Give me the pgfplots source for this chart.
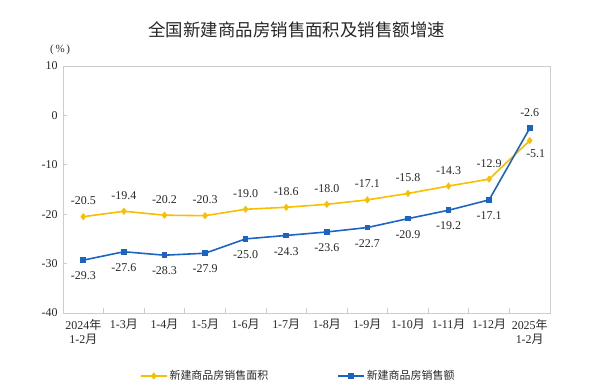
\documentclass[border=0pt]{standalone}
\usepackage{fontspec}
\setmainfont{Liberation Serif}
\newfontfamily\cjk{Noto Sans CJK SC}
\usepackage{pgfplots}
\pgfplotsset{compat=1.18}
\definecolor{cy}{RGB}{248,190,0}
\definecolor{cb}{RGB}{28,100,196}
\definecolor{axc}{RGB}{205,205,205}
\definecolor{tx}{RGB}{40,40,40}
\begin{document}
\begin{tikzpicture}
\useasboundingbox (0,0) rectangle (595bp,391bp);
\begin{axis}[
  at={(63bp,78bp)}, anchor=south west,
  scale only axis, width=487bp, height=247bp,
  xmin=-0.5, xmax=11.5, ymin=-40, ymax=10,
  ytick={-40,-30,...,10},
  xtick={0,...,11},
  xticklabels={{2024{\cjk 年}\\1-2{\cjk 月}},{1-3{\cjk 月}},{1-4{\cjk 月}},{1-5{\cjk 月}},{1-6{\cjk 月}},{1-7{\cjk 月}},{1-8{\cjk 月}},{1-9{\cjk 月}},{1-10{\cjk 月}},{1-11{\cjk 月}},{1-12{\cjk 月}},{2025{\cjk 年}\\1-2{\cjk 月}}},
  minor xtick={0.5,1.5,...,10.5},
  xtick pos=bottom, ytick pos=left,
  tick align=inside,
  major tick length=4bp, minor tick length=5bp,
  major x tick style={draw=none},
  tick style={axc, line width=0.7pt},
  axis line style={axc, line width=0.8pt},
  /pgf/number format/assume math mode=true,
  ticklabel style={font=\fontsize{12}{13.5}\selectfont, text=tx},
  xticklabel style={align=center, yshift=-3bp},
  yticklabel style={xshift=-2bp},
  point meta=explicit symbolic,
  visualization depends on={value \thisrow{anc} \as \anc},
  visualization depends on={value \thisrow{dx} \as \dx},
  visualization depends on={value \thisrow{dy} \as \dy},
  nodes near coords,
  every node near coord/.append style={anchor=\anc, xshift=\dx bp, yshift=\dy bp, font=\fontsize{12}{14}\selectfont, text=tx, inner sep=1bp},
  legend columns=2,
  legend style={at={(0.483,-0.255)}, anchor=center, draw=none, fill=none, font=\fontsize{11}{13}\selectfont\cjk, text=tx, /tikz/every even column/.append style={column sep=67bp}},
  legend image code/.code={\draw[#1, mark repeat=2, mark phase=2] plot coordinates {(0bp,0bp) (13bp,0bp) (26bp,0bp)};},
  clip=false,
]
\addplot[cy, line width=1.6pt, mark=diamond*, mark size=2.4bp, mark options={solid}] table[x=x, y=y, meta=lab] {
x y lab anc dx dy
0 -20.5 -20.5 south 0 10
1 -19.4 -19.4 south 0 10
2 -20.2 -20.2 south 0 10
3 -20.3 -20.3 south 0 10
4 -19.0 -19.0 south 0 10
5 -18.6 -18.6 south 0 10
6 -18.0 -18.0 south 0 10
7 -17.1 -17.1 south 0 10
8 -15.8 -15.8 south 0 10
9 -14.3 -14.3 south 0 10
10 -12.9 -12.9 south 0 10
11 -5.1 -5.1 north 6 -7
};
\addlegendentry{新建商品房销售面积}
\addplot[cb, line width=1.6pt, mark=square*, mark size=2bp, mark options={solid}] table[x=x, y=y, meta=lab] {
x y lab anc dx dy
0 -29.3 -29.3 north 0 -10
1 -27.6 -27.6 north 0 -10
2 -28.3 -28.3 north 0 -10
3 -27.9 -27.9 north 0 -10
4 -25.0 -25.0 north 0 -10
5 -24.3 -24.3 north 0 -10
6 -23.6 -23.6 north 0 -10
7 -22.7 -22.7 north 0 -10
8 -20.9 -20.9 north 0 -10
9 -19.2 -19.2 north 0 -10
10 -17.1 -17.1 north 0 -10
11 -2.6 -2.6 south 0 10
};
\addlegendentry{新建商品房销售额}
\node[font=\fontsize{11}{13}\selectfont, text=tx] at (rel axis cs:-0.006,1.065) {(\,\%\,)};
\node[font=\fontsize{17.5}{20}\selectfont\cjk, text=black!85] at (rel axis cs:0.48,1.146) {全国新建商品房销售面积及销售额增速};
\end{axis}
\end{tikzpicture}
\end{document}
